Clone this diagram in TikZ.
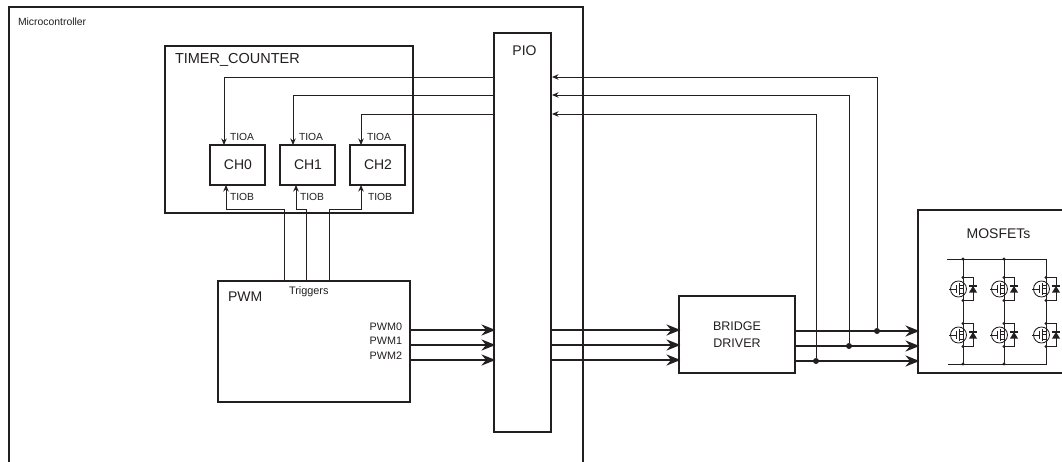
\documentclass[tikz,border=0pt]{standalone}
\usepackage{fontspec}
\setmainfont{Liberation Sans}
\usetikzlibrary{arrows.meta,positioning,calc}
\definecolor{ink}{HTML}{231F20}
\tikzset{
  x=1pt,y=-1pt,
  every node/.style={text=ink,inner sep=0pt,outer sep=0pt},
  boxnode/.style={draw=ink,line width=2pt,fill=white,anchor=north west},
  chbox/.style={draw=ink,line width=2.2pt,fill=white,anchor=north west,minimum width=55pt,minimum height=40pt,font=\fontsize{14}{14}\selectfont},
  biglabel/.style={font=\fontsize{14}{16}\selectfont,anchor=west},
  smalllabel/.style={font=\fontsize{10.3}{12}\selectfont,anchor=west},
  thinarrow/.style={draw=ink,line width=0.9pt,-{Stealth[length=6.5pt,width=5.5pt]}},
  busarrow/.style={draw=ink,line width=2pt,shorten >=-1.5pt,-{Stealth[length=14pt,width=11pt]}},
  joint/.style={circle,fill=ink,minimum size=6pt},
  fetline/.style={draw=ink,line width=0.85pt},
  fetpic/.pic={
    \draw[fetline] (0,-11.5) -- (0,-4) -- (-4,-4);
    \draw[fetline] (0,11.5) -- (0,4) -- (-4,4);
    \draw[fetline] (-4,-6) -- (-4,6);
    \draw[fetline] (-4,-1) -- (0,-1);
    \draw[fetline,line width=1.1pt] (-6.5,-4) -- (-6.5,4);
    \draw[fetline] (-14,0) -- (-6.5,0);
    \draw[fetline] (-4.5,0) circle[radius=8];
    \draw[fetline] (0,-11.5) -- (10,-11.5) -- (10,11.5) -- (0,11.5);
    \fill[ink] (6,3.5) -- (14,3.5) -- (10,-3) -- cycle;
    \draw[fetline,line width=1.1pt] (6,-3) -- (14,-3);
    \fill[ink] (0,-11.5) circle[radius=1.6];
    \fill[ink] (0,11.5) circle[radius=1.6];
  }
}
\begin{document}
\begin{tikzpicture}
\useasboundingbox (0,0) rectangle (1062,461);
\clip (0,0) rectangle (1062,461);
% containers
\node[boxnode,minimum width=574pt,minimum height=470pt] (micro) at (9,7) {};
\node[biglabel,font=\fontsize{10.4}{12}\selectfont] (microlabel) at (18,22) {Microcontroller};
\node[boxnode,minimum width=248pt,minimum height=167pt] (timer) at (165,46) {};
\node[biglabel,font=\fontsize{14.5}{16}\selectfont] (timerlabel) at (175,60) {TIMER\_COUNTER};
\node[chbox] (ch0) at (210,145) {\hspace*{1pt}CH0};
\node[chbox] (ch1) at (280,145) {\hspace*{1pt}CH1};
\node[chbox] (ch2) at (350,145) {\hspace*{1pt}CH2};
\node[boxnode,minimum width=192pt,minimum height=121pt] (pwm) at (218,281) {};
\node[biglabel] (pwmlabel) at (228,297) {PWM};
\node[boxnode,minimum width=57pt,minimum height=399pt] (pio) at (494,33) {};
\node[biglabel,anchor=center] (piolabel) at (524.5,51) {PIO};
\node[boxnode,minimum width=116pt,minimum height=77pt,align=center,font=\fontsize{12.5}{17}\selectfont] (bridge) at (679,296) {BRIDGE\\DRIVER};
\node[boxnode,minimum width=160pt,minimum height=163pt] (mos) at (918,210) {};
\node[biglabel,anchor=center] (moslabel) at (998.5,233.5) {MOSFETs};
% labels
\foreach \n/\x in {a0/230,a1/299,a2/367}{\node[smalllabel] (\n) at (\x,137) {TIOA};}
\foreach \n/\x in {b0/230,b1/300,b2/368}{\node[smalllabel] (\n) at (\x,197) {TIOB};}
\node[smalllabel,font=\fontsize{10.9}{12}\selectfont] (trig) at (289,292) {Triggers};
\node[smalllabel,anchor=east,font=\fontsize{10.8}{12}\selectfont] (p0) at (402,326.5) {PWM0};
\node[smalllabel,anchor=east,font=\fontsize{10.8}{12}\selectfont] (p1) at (402,341) {PWM1};
\node[smalllabel,anchor=east,font=\fontsize{10.8}{12}\selectfont] (p2) at (402,356) {PWM2};
% TIOA connectors
\coordinate (ta0) at (224,145); \coordinate (ta1) at (293,145); \coordinate (ta2) at (361,145);
\coordinate (pa0) at (494,77); \coordinate (pa1) at (494,95); \coordinate (pa2) at (494,114);
\draw[thinarrow] (pa0) -| (ta0);
\draw[thinarrow] (pa1) -| (ta1);
\draw[thinarrow] (pa2) -| (ta2);
% TIOB connectors
\coordinate (tb0) at (226,185); \coordinate (tb1) at (296,185); \coordinate (tb2) at (361,185);
\coordinate (pt0) at (284,281); \coordinate (pt1) at (306,281); \coordinate (pt2) at (329,281);
\draw[thinarrow] (pt0) |- (226,209) -- (tb0);
\draw[thinarrow] (pt1) |- (296,209) -- (tb1);
\draw[thinarrow] (pt2) |- (361,209) -- (tb2);
% buses
\foreach \i/\y in {0/330,1/345,2/360}{
  \coordinate (pwmout\i) at (410,\y);
  \coordinate (pioin\i) at (494,\y);
  \coordinate (pioout\i) at (551,\y);
  \coordinate (brin\i) at (679,\y);
  \draw[busarrow] (pwmout\i) -- (pioin\i);
  \draw[busarrow] (pioout\i) -- (brin\i);
}
\foreach \i/\y in {0/331,1/346,2/361}{
  \coordinate (brout\i) at (795,\y);
  \coordinate (mosin\i) at (918,\y);
  \draw[busarrow] (brout\i) -- (mosin\i);
}
% feedback
\node[joint] (j0) at (877,331) {};
\node[joint] (j1) at (849,346) {};
\node[joint] (j2) at (816,361) {};
\coordinate (fb0) at (552,77); \coordinate (fb1) at (552,95); \coordinate (fb2) at (552,114);
\draw[thinarrow] (j0) |- (fb0);
\draw[thinarrow] (j1) |- (fb1);
\draw[thinarrow] (j2) |- (fb2);
% MOSFET bridge
\draw[fetline] (947,259) -- (1046,259) -- (1046,364) -- (948,364);
\draw[fetline] (963,259) -- (963,364);
\draw[fetline] (1004,259) -- (1004,364);
\fill[ink] (963,259) circle[radius=1.6] (1004,259) circle[radius=1.6] (963,364) circle[radius=1.6] (1004,364) circle[radius=1.6];
\foreach \x in {963,1004,1046}{
  \foreach \y in {289,335}{
    \fill[white] (\x-14,\y-9) rectangle (\x-0.6,\y+9);
    \pic at (\x,\y) {fetpic};
  }
}
\end{tikzpicture}
\end{document}
